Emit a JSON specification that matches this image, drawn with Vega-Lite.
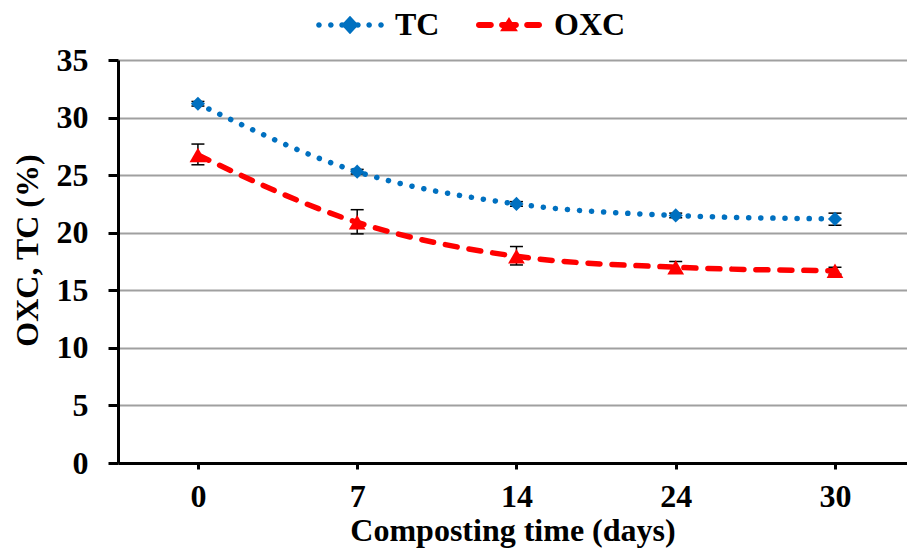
{
  "$schema": "https://vega.github.io/schema/vega-lite/v6.json",
  "width": 789,
  "height": 403,
  "autosize": {"type": "none"},
  "padding": {"left": 118, "top": 60, "right": 0, "bottom": 91},
  "background": "white",
  "config": {"view": {"stroke": null}, "font": "Liberation Serif"},
  "data": {
    "values": [
      {"day": "0", "series": "TC", "value": 31.2, "lo": 31.0, "hi": 31.4},
      {"day": "7", "series": "TC", "value": 25.3, "lo": 25.1, "hi": 25.5},
      {"day": "14", "series": "TC", "value": 22.5, "lo": 22.3, "hi": 22.7},
      {"day": "24", "series": "TC", "value": 21.5, "lo": 21.3, "hi": 21.7},
      {"day": "30", "series": "TC", "value": 21.2, "lo": 20.65, "hi": 21.7},
      {"day": "0", "series": "OXC", "value": 26.75, "lo": 25.9, "hi": 27.7},
      {"day": "7", "series": "OXC", "value": 20.9, "lo": 19.9, "hi": 22.0},
      {"day": "14", "series": "OXC", "value": 17.95, "lo": 17.2, "hi": 18.8},
      {"day": "24", "series": "OXC", "value": 17.0, "lo": 16.5, "hi": 17.5},
      {"day": "30", "series": "OXC", "value": 16.7, "lo": 16.4, "hi": 17.0}
    ]
  },
  "encoding": {
    "x": {
      "field": "day", "type": "ordinal", "sort": ["0", "7", "14", "24", "30"],
      "scale": {"type": "point", "padding": 0.477, "align": 0.526},
      "axis": {
        "labelAngle": 0, "grid": false,
        "domainColor": "black", "domainWidth": 3,
        "tickColor": "black", "tickWidth": 3, "tickSize": 6,
        "labelFont": "Liberation Serif", "labelFontSize": 32, "labelFontWeight": "bold", "labelColor": "black", "labelPadding": 12,
        "title": "Composting time (days)", "titleFont": "Liberation Serif", "titleFontSize": 32, "titleFontWeight": "bold", "titleColor": "black", "titlePadding": 3
      }
    }
  },
  "layer": [
    {
      "mark": {"type": "rule", "color": "black", "strokeWidth": 1.5},
      "encoding": {
        "y": {"field": "lo", "type": "quantitative"},
        "y2": {"field": "hi"}
      }
    },
    {
      "mark": {"type": "tick", "color": "black", "thickness": 1.5, "size": 13, "opacity": 1},
      "encoding": {"y": {"field": "lo", "type": "quantitative"}}
    },
    {
      "mark": {"type": "tick", "color": "black", "thickness": 1.5, "size": 13, "opacity": 1},
      "encoding": {"y": {"field": "hi", "type": "quantitative"}}
    },
    {
      "mark": {"type": "line", "interpolate": "monotone", "strokeWidth": 5.5, "strokeCap": "round"},
      "encoding": {
        "y": {
          "field": "value", "type": "quantitative",
          "scale": {"domain": [0, 35]},
          "axis": {
            "values": [0, 5, 10, 15, 20, 25, 30, 35],
            "grid": true, "gridColor": "#A0A0A0", "gridWidth": 2,
            "domainColor": "black", "domainWidth": 3,
            "tickColor": "black", "tickWidth": 3, "tickSize": 10,
            "labelFont": "Liberation Serif", "labelFontSize": 32, "labelFontWeight": "bold", "labelColor": "black", "labelPadding": 20,
            "title": "OXC, TC (%)", "titleFont": "Liberation Serif", "titleFontSize": 32, "titleFontWeight": "bold", "titleColor": "black", "titlePadding": 12, "titleY": 190
          }
        },
        "color": {
          "field": "series", "type": "nominal",
          "scale": {"domain": ["TC", "OXC"], "range": ["#0070C0", "#FF0000"]},
          "legend": {
            "orient": "none", "legendX": 199, "legendY": -68, "direction": "horizontal",
            "title": null, "symbolSize": 4356, "padding": 0,
            "labelFont": "Liberation Serif", "labelFontSize": 32, "labelFontWeight": "bold", "labelColor": "black",
            "labelOffset": 12, "columnPadding": 36, "labelLimit": 300,
            "encode": {
              "symbols": {
                "update": {
                  "shape": {"signal": "datum.value === 'TC' ? 'M-1.025,0a0.085,0.085 0 1,1 0.17,0a0.085,0.085 0 1,1 -0.17,0M-0.665,0a0.085,0.085 0 1,1 0.17,0a0.085,0.085 0 1,1 -0.17,0M-0.325,0a0.085,0.085 0 1,1 0.17,0a0.085,0.085 0 1,1 -0.17,0M0.155,0a0.085,0.085 0 1,1 0.17,0a0.085,0.085 0 1,1 -0.17,0M0.495,0a0.085,0.085 0 1,1 0.17,0a0.085,0.085 0 1,1 -0.17,0M0.855,0a0.085,0.085 0 1,1 0.17,0a0.085,0.085 0 1,1 -0.17,0M0,-0.28L0.26,0L0,0.28L-0.26,0Z' : 'M-0.91,-0.09L-0.55,-0.09A0.09,0.09 0 0 1 -0.55,0.09L-0.91,0.09A0.09,0.09 0 0 1 -0.91,-0.09ZM-0.21,-0.09L0.21,-0.09A0.09,0.09 0 0 1 0.21,0.09L-0.21,0.09A0.09,0.09 0 0 1 -0.21,-0.09ZM0.55,-0.09L0.91,-0.09A0.09,0.09 0 0 1 0.91,0.09L0.55,0.09A0.09,0.09 0 0 1 0.55,-0.09ZM0,-0.24L0.27,0.19L-0.27,0.19Z'"},
                  "size": {"value": 4356},
                  "fill": {"scale": "color", "field": "value"},
                  "stroke": {"value": "transparent"},
                  "strokeWidth": {"value": 0},
                  "strokeDash": {"value": [1, 0]},
                  "opacity": {"value": 1}
                }
              }
            }
          }
        },
        "strokeDash": {
          "field": "series", "type": "nominal",
          "scale": {"domain": ["TC", "OXC"], "range": [[0.1, 12], [12, 12]]},
          "legend": null
        }
      }
    },
    {
      "transform": [{"filter": "datum.series === 'TC'"}],
      "mark": {"type": "point", "filled": true, "opacity": 1, "strokeWidth": 0, "shape": "diamond", "size": 200},
      "encoding": {
        "y": {"field": "value", "type": "quantitative"},
        "color": {"field": "series", "type": "nominal"}
      }
    },
    {
      "transform": [{"filter": "datum.series === 'OXC'"}],
      "mark": {"type": "point", "filled": true, "opacity": 1, "strokeWidth": 0, "shape": "triangle-up", "size": 280},
      "encoding": {
        "y": {"field": "value", "type": "quantitative"},
        "color": {"field": "series", "type": "nominal"}
      }
    }
  ]
}
